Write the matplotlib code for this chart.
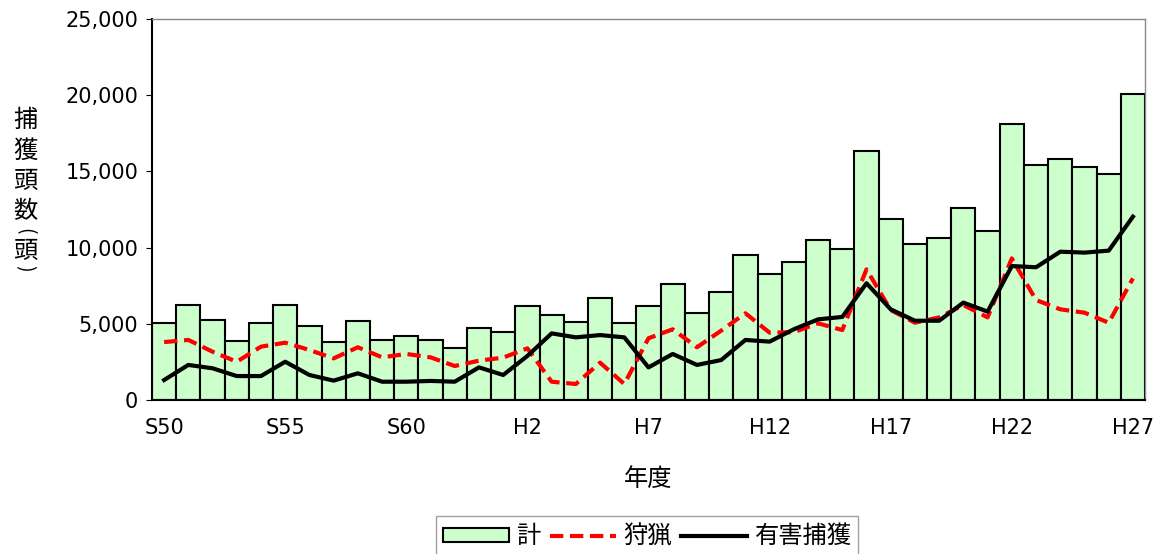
import matplotlib.pyplot as plt
from matplotlib.ticker import FuncFormatter

plt.rcParams['font.family'] = ['Noto Sans CJK JP', 'DejaVu Sans']

# S50 (1975) .. H27 (2015)
years = list(range(41))
tick_pos = [0, 5, 10, 15, 20, 25, 30, 35, 40]
tick_labels = ['S50', 'S55', 'S60', 'H2', 'H7', 'H12', 'H17', 'H22', 'H27']

total = [5050, 6230, 5250, 3870, 5050, 6230, 4860, 3800, 5180, 3940,
         4200, 3940, 3410, 4720, 4460, 6170, 5580, 5120, 6690, 5050,
         6170, 7610, 5710, 7090, 9510, 8270, 9060, 10500, 9910, 16340,
         11880, 10240, 10630, 12600, 11090, 18110, 15420, 15810, 15290, 14830,
         20080]
hunting = [3800, 3940, 3170, 2510, 3500, 3760, 3280, 2730, 3460, 2800,
           3020, 2800, 2230, 2580, 2780, 3390, 1200, 1050, 2450, 1050,
           4050, 4640, 3460, 4550, 5690, 4420, 4450, 5030, 4590, 8570,
           5900, 5070, 5420, 6230, 5420, 9290, 6560, 5950, 5730, 5070,
           7980]
pest = [1310, 2300, 2080, 1570, 1570, 2510, 1640, 1270, 1750, 1200,
        1200, 1250, 1200, 2140, 1640, 2890, 4370, 4110, 4260, 4110,
        2140, 3020, 2300, 2620, 3940, 3830, 4640, 5290, 5450, 7660,
        5950, 5200, 5200, 6390, 5800, 8790, 8710, 9730, 9670, 9800,
        12030]

fig = plt.figure(figsize=(11.62, 5.54), dpi=100)
ax = fig.add_axes([0.1308, 0.278, 0.8546, 0.6877])

b = ax.bar(years, total, width=1.0, color='#CCFFCC', edgecolor='black', linewidth=1.5, label='計', zorder=2)
l1, = ax.plot(years, hunting, color='#FF0000', linewidth=3, dashes=(3.2, 1.6), label='狩猟', zorder=3)
l2, = ax.plot(years, pest, color='black', linewidth=3, label='有害捕獲', zorder=4)

ax.set_xlim(-0.5, 40.5)
ax.set_ylim(0, 25000)
ax.set_yticks(range(0, 25001, 5000))
ax.yaxis.set_major_formatter(FuncFormatter(lambda v, p: f'{int(v):,}'))
ax.set_xticks(tick_pos)
ax.set_xticklabels(tick_labels)
ax.tick_params(axis='x', length=0, pad=13)
ax.tick_params(axis='y', length=4, pad=6)
for lab in ax.get_xticklabels() + ax.get_yticklabels():
    lab.set_family('DejaVu Sans')
    lab.set_fontsize(15)

for s in ['top', 'right']:
    ax.spines[s].set_color('#888888')
    ax.spines[s].set_linewidth(1)
ax.spines['left'].set_linewidth(1.5)
ax.spines['bottom'].set_linewidth(1.5)

ax.set_xlabel('年度', fontsize=17.5, labelpad=20)

# vertical y label, one glyph per line; brackets turned sideways
ylab = [('捕', 120, 0), ('獲', 150.5, 0), ('頭', 181, 0), ('数', 211.5, 0),
        ('(', 231, -90), ('頭', 251, 0), (')', 268, -90)]
for ch, ypx, rot in ylab:
    fig.text(25 / 1162, 1 - ypx / 554, ch, fontsize=17.5 if rot == 0 else 14,
             ha='center', va='center', rotation=rot)

leg = ax.legend([b, l1, l2], ['計', '狩猟', '有害捕獲'],
                loc='upper center', bbox_to_anchor=(0.4985, -0.3045), ncol=3, fontsize=17.5,
                frameon=True, fancybox=False, edgecolor='#888888', handlelength=2.7,
                handleheight=0.5, handletextpad=0.3, columnspacing=0.4, borderpad=0.3,
                borderaxespad=0)
leg.get_frame().set_linewidth(1)

fig.savefig('out.png', dpi=100)
